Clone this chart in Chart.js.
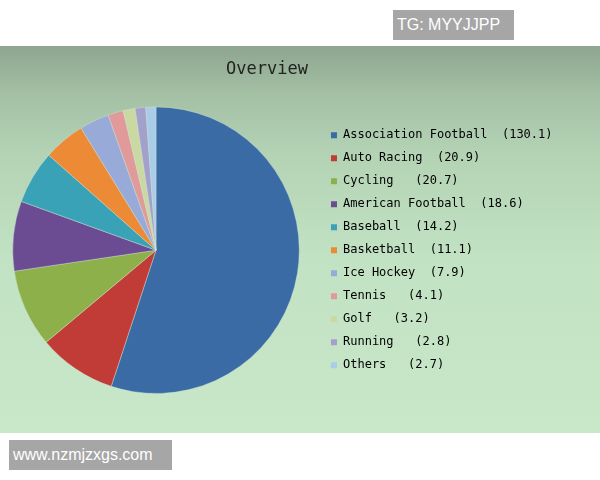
<!DOCTYPE html>
<html>
<head>
<meta charset="utf-8">
<script src="https://cdn.jsdelivr.net/npm/chart.js@4/dist/chart.umd.min.js"></script>
<style>
  html, body { margin: 0; padding: 0; width: 600px; height: 480px; overflow: hidden; background: #ffffff; position: relative; }
  #panel { position: absolute; left: 0; top: 46px; width: 600px; height: 387px;
    background: linear-gradient(to bottom, #8ea58f 0%, #a3bfa4 12%, #b4d3b5 28%, #c2e2c4 55%, #c9e7c9 100%); }
  #chart { position: absolute; left: -28px; top: 46px; }
  .wm { position: absolute; background: #a6a6a6; color: #ffffff; font-family: 'Liberation Sans', Arial, sans-serif; font-size: 16px; line-height: 30px; height: 30px; box-sizing: border-box; padding-left: 4px; }
  #wm1 { left: 393px; top: 10px; width: 121px; }
  #wm2 { left: 9px; top: 440px; width: 163px; }
</style>
</head>
<body>
<div id="panel"></div>
<canvas id="chart" width="628" height="386"></canvas>
<div class="wm" id="wm1">TG: MYYJJPP</div>
<div class="wm" id="wm2">www.nzmjzxgs.com</div>
<script>
const titleText = 'Overview';
const categories = ['Association Football', 'Auto Racing', 'Cycling', 'American Football', 'Baseball', 'Basketball', 'Ice Hockey', 'Tennis', 'Golf', 'Running', 'Others'];
const values = [130.1, 20.9, 20.7, 18.6, 14.2, 11.1, 7.9, 4.1, 3.2, 2.8, 2.7];
const legendTexts = [
  'Association Football  (130.1)',
  'Auto Racing  (20.9)',
  'Cycling   (20.7)',
  'American Football  (18.6)',
  'Baseball  (14.2)',
  'Basketball  (11.1)',
  'Ice Hockey  (7.9)',
  'Tennis   (4.1)',
  'Golf   (3.2)',
  'Running   (2.8)',
  'Others   (2.7)'
];
const colors = ['#3b6ba5', '#c23c37', '#8db04b', '#6b4c93', '#3aa2b7', '#ec8a36', '#97aad8', '#e09a9a', '#cad9a2', '#a3a1cc', '#a9cce8'];

new Chart(document.getElementById('chart'), {
  type: 'pie',
  data: {
    labels: categories,
    datasets: [{
      data: values,
      backgroundColor: colors,
      borderColor: 'rgba(210,230,215,0.4)',
      borderWidth: 1
    }]
  },
  options: {
    responsive: false,
    animation: false,
    layout: { padding: { left: 20, right: 37.5, top: 0, bottom: 38 } },
    plugins: {
      tooltip: { enabled: false },
      title: {
        display: true,
        text: titleText + '  ',
        color: '#222222',
        font: { family: 'DejaVu Sans Mono', size: 17, weight: 'normal' },
        padding: { top: 13, bottom: 27 }
      },
      legend: {
        position: 'right',
        align: 'center',
        fullSize: false,
        labels: {
          boxWidth: 6,
          boxHeight: 6,
          padding: 11,
          color: '#2a2a2a',
          font: { family: 'DejaVu Sans Mono', size: 12 },
          generateLabels: (chart) => legendTexts.map((t, i) => ({
            text: t,
            fillStyle: colors[i],
            strokeStyle: colors[i],
            lineWidth: 0,
            hidden: false,
            index: i
          }))
        }
      }
    }
  }
});
</script>
</body>
</html>
